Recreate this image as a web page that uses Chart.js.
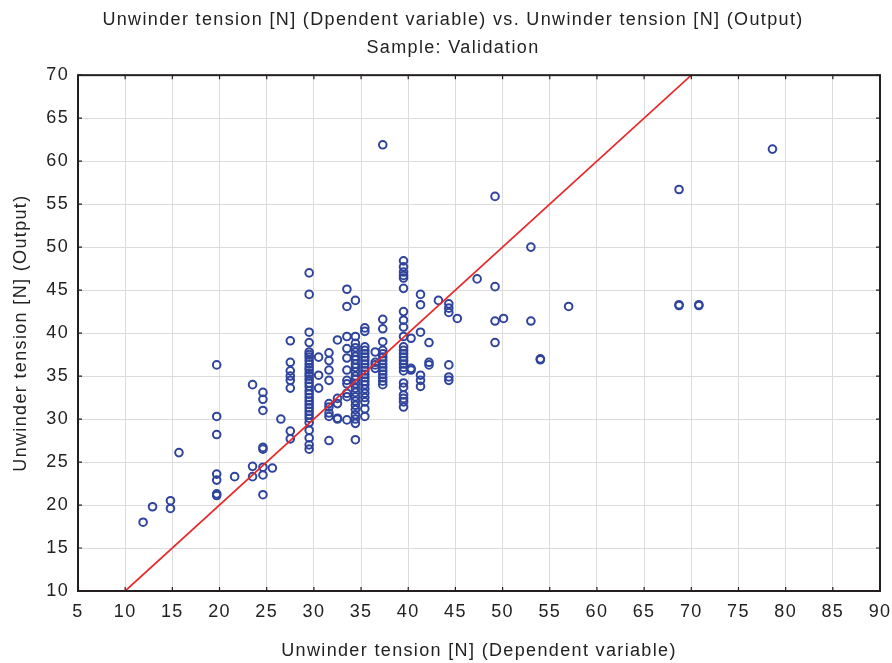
<!DOCTYPE html>
<html><head><meta charset="utf-8">
<script src="https://cdn.jsdelivr.net/npm/chart.js@4/dist/chart.umd.min.js"></script>
<style>html,body{margin:0;padding:0;background:#fff}#wrap{width:892px;height:663px}</style>
</head><body><div id="wrap"><canvas id="c" width="892" height="663"></canvas></div>
<script>
const colX = [11.9, 12.9, 14.8, 15.7, 19.7, 21.6, 23.5, 24.6, 25.6, 26.5, 27.5, 29.5, 30.5, 31.6, 32.5, 33.5, 34.4, 35.4, 36.5, 37.3, 39.5, 40.3, 41.3, 42.2, 43.2, 44.3, 45.2, 47.3, 49.2, 50.1, 53.0, 54.0, 57.0, 68.7, 70.8, 78.6];
const colY = [
  [18.0],
  [19.8],
  [20.5, 19.6],
  [26.1],
  [36.3, 30.3, 28.2, 23.6, 22.9, 21.3, 21.1],
  [23.3],
  [34.0, 24.5, 23.3],
  [33.1, 32.3, 31.0, 26.7, 26.5, 24.4, 23.5, 21.2],
  [24.3],
  [30.0],
  [39.1, 36.6, 35.6, 35.0, 34.5, 33.6, 28.6, 27.7],
  [47.0, 44.5, 40.1, 38.9, 37.8, 37.5, 37.2, 36.8, 36.4, 36.0, 35.7, 35.3, 35.0, 34.6, 34.2, 33.8, 33.3, 32.9, 32.5, 32.1, 31.7, 31.3, 30.9, 30.5, 30.1, 29.6, 28.7, 27.8, 27.0, 26.5],
  [37.2, 35.1, 33.6],
  [37.7, 36.8, 35.7, 34.5, 31.8, 31.4, 30.7, 30.3, 27.5],
  [39.2, 32.4, 31.8, 30.1, 30.0],
  [45.1, 43.1, 39.6, 38.2, 37.1, 35.7, 34.5, 34.1, 33.0, 32.6, 29.9],
  [43.8, 39.6, 38.8, 38.3, 37.8, 37.3, 36.9, 36.4, 36.0, 35.5, 35.0, 34.6, 34.1, 33.6, 33.1, 32.6, 32.1, 31.6, 31.1, 30.5, 30.0, 29.5, 27.6],
  [40.6, 40.2, 38.4, 38.0, 37.6, 37.2, 36.8, 36.4, 36.0, 35.6, 35.2, 34.8, 34.4, 34.0, 33.5, 33.0, 32.5, 32.0, 31.2, 30.3],
  [37.8, 36.6, 36.3, 35.9],
  [61.9, 41.6, 40.5, 39.0, 38.0, 37.6, 37.2, 36.8, 36.4, 36.0, 35.6, 35.2, 34.8, 34.4, 34.0],
  [48.4, 47.7, 47.1, 46.7, 46.4, 45.2, 42.5, 41.5, 40.7, 39.6, 38.4, 38.0, 37.6, 37.2, 36.8, 36.4, 36.0, 35.6, 34.2, 33.7, 32.8, 32.4, 32.0, 31.4],
  [39.4, 35.9, 35.7],
  [44.5, 43.3, 40.1, 35.1, 34.5, 33.8],
  [38.9, 36.6, 36.3],
  [43.8],
  [43.4, 42.9, 42.4, 36.3, 34.9, 34.5],
  [41.7],
  [46.3],
  [55.9, 45.4, 41.4, 38.9],
  [41.7],
  [50.0, 41.4],
  [37.0, 36.9],
  [43.1],
  [56.7, 43.3, 43.2],
  [43.3, 43.2],
  [61.4]
];
const xTicks = [5, 90, 5];   // min, max, step
const yTicks = [10, 70, 5];
const fitLine = [10, 70];    // y = x reference line endpoints

const points = [];
colX.forEach((x, i) => colY[i].forEach(y => points.push({x: x, y: y})));

const spacing = {
  id: 'spacing',
  beforeDraw(chart) { chart.ctx.letterSpacing = '1.35px'; }
};

const frame = {
  id: 'frame',
  afterDraw(chart) {
    const a = chart.chartArea, ctx = chart.ctx;
    const xs = chart.scales.x, ys = chart.scales.y;
    ctx.save();
    ctx.strokeStyle = '#231f20';
    ctx.lineWidth = 2;
    ctx.strokeRect(a.left, a.top, a.right - a.left, a.bottom - a.top);
    ctx.lineWidth = 1.2;
    ctx.beginPath();
    const L = 4;
    xs.ticks.forEach(t => {
      const p = xs.getPixelForValue(t.value);
      ctx.moveTo(p, a.bottom); ctx.lineTo(p, a.bottom - L);
      ctx.moveTo(p, a.top); ctx.lineTo(p, a.top + L);
    });
    ys.ticks.forEach(t => {
      const p = ys.getPixelForValue(t.value);
      ctx.moveTo(a.left, p); ctx.lineTo(a.left + L, p);
      ctx.moveTo(a.right, p); ctx.lineTo(a.right - L, p);
    });
    ctx.stroke();
    ctx.restore();
  }
};

const FONT = "'Liberation Sans', Arial, sans-serif";
new Chart(document.getElementById('c'), {
  type: 'scatter',
  data: {
    datasets: [
      {
        type: 'line',
        data: fitLine.map(v => ({x: v, y: v})),
        borderColor: '#e8282b',
        borderWidth: 1.7,
        pointRadius: 0,
        fill: false,
        order: 0
      },
      {
        data: points,
        pointStyle: 'circle',
        pointRadius: 3.8,
        pointBorderWidth: 2,
        pointBorderColor: '#2f449c',
        pointBackgroundColor: 'rgba(0,0,0,0)',
        order: 1
      }
    ]
  },
  options: {
    responsive: false,
    animation: false,
    events: [],
    layout: {padding: {left: 26, right: 12, top: 0, bottom: 0}},
    plugins: {
      legend: {display: false},
      tooltip: {enabled: false},
      title: {
        display: true,
        text: ['Unwinder tension [N] (Dpendent variable) vs. Unwinder tension [N] (Output)', 'Sample: Validation'],
        color: '#222',
        font: {family: FONT, size: 18, weight: 'normal', lineHeight: 1.56},
        padding: {top: 6, bottom: 13}
      }
    },
    scales: {
      x: {
        type: 'linear',
        min: xTicks[0], max: xTicks[1],
        afterFit(s) { s.height = 72; s.paddingRight = 0; s.paddingLeft = 0; },
        ticks: {stepSize: xTicks[2], color: '#222', padding: 10, font: {family: FONT, size: 18}, maxRotation: 0},
        grid: {color: '#dcdcdc', lineWidth: 1, drawTicks: false},
        border: {display: false},
        title: {display: true, text: 'Unwinder tension [N] (Dependent variable)', color: '#222',
                font: {family: FONT, size: 18}, padding: {top: 0, bottom: 1}}
      },
      y: {
        type: 'linear',
        min: yTicks[0], max: yTicks[1],
        afterFit(s) { s.width = 52; s.paddingTop = 0; s.paddingBottom = 0; },
        ticks: {stepSize: yTicks[2], color: '#222', padding: 9, font: {family: FONT, size: 18}},
        grid: {color: '#dcdcdc', lineWidth: 1, drawTicks: false},
        border: {display: false},
        title: {display: true, text: 'Unwinder tension [N] (Output)', color: '#222',
                font: {family: FONT, size: 18}, padding: {top: -16, bottom: 0}}
      }
    }
  },
  plugins: [spacing, frame]
});
</script></body></html>
